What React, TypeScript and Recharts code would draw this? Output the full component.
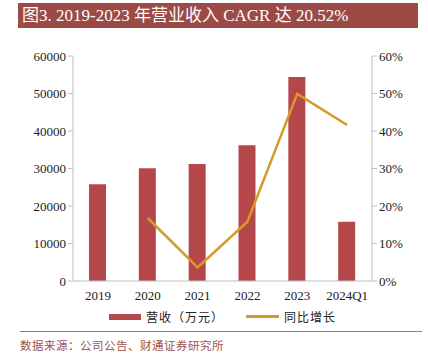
import { ComposedChart, Bar, Line, XAxis, YAxis } from "recharts";

const years = ["2019", "2020", "2021", "2022", "2023", "2024Q1"];
const revenue = [25800, 30100, 31200, 36200, 54400, 15800];
const growth = [null, 16.8, 3.6, 15.8, 49.9, 41.6];
const leftTicks = [0, 10000, 20000, 30000, 40000, 50000, 60000];
const rightTicks = [0, 10, 20, 30, 40, 50, 60];

const serif = '"Liberation Serif", "Noto Sans CJK SC", serif';
const cjk = '"Noto Sans CJK SC", sans-serif';

const data = years.map((y, i) => ({ name: y, revenue: revenue[i], growth: growth[i] }));

export default function App() {
  return (
    <div style={{ position: "absolute", left: 0, top: 0, width: 428, height: 356, background: "#fff", fontFamily: serif }}>
      {/* title bar */}
      <div
        style={{
          position: "absolute",
          left: 18,
          top: 3,
          width: 400,
          height: 25,
          background: "#9C4A46",
          color: "#fff",
          fontSize: 17,
          lineHeight: "25px",
          paddingLeft: 4,
          boxSizing: "border-box",
          whiteSpace: "nowrap",
        }}
      >
        图3. 2019-2023 年营业收入 CAGR 达 20.52%
      </div>

      <div style={{ position: "absolute", left: 0, top: 0 }}>
        <ComposedChart width={428} height={356} data={data} margin={{ top: 56, right: 0, left: 0, bottom: 45 }}>
          <XAxis
            dataKey="name"
            axisLine={{ stroke: "#BFBFBF" }}
            tickLine={false}
            tick={{ fontSize: 13, fill: "#222", fontFamily: serif }}
            height={30}
            dy={2}
            interval={0}
          />
          <YAxis
            yAxisId="left"
            domain={[0, 60000]}
            ticks={leftTicks}
            width={73}
            axisLine={{ stroke: "#BFBFBF" }}
            tickLine={{ stroke: "#BFBFBF" }}
            tickSize={5}
            tick={{ fontSize: 13, fill: "#222", fontFamily: serif }}
            interval={0}
          />
          <YAxis
            yAxisId="right"
            orientation="right"
            domain={[0, 60]}
            ticks={rightTicks}
            tickFormatter={(v) => `${v}%`}
            width={56}
            axisLine={{ stroke: "#BFBFBF" }}
            tickLine={{ stroke: "#BFBFBF" }}
            tickSize={5}
            tick={{ fontSize: 13, fill: "#222", fontFamily: serif }}
            interval={0}
          />
          <Bar yAxisId="left" dataKey="revenue" fill="#B5474A" barSize={17} isAnimationActive={false} />
          <Line
            yAxisId="right"
            dataKey="growth"
            stroke="#D69A27"
            strokeWidth={2.5}
            dot={false}
            type="linear"
            isAnimationActive={false}
          />
        </ComposedChart>
      </div>

      {/* legend */}
      <div style={{ position: "absolute", left: 109, top: 308, display: "flex", alignItems: "center", fontFamily: cjk, fontSize: 12, color: "#222", letterSpacing: 1 }}>
        <div style={{ width: 32, height: 6, background: "#B5474A", marginRight: 5 }} />
        <span>营收（万元）</span>
        <div style={{ width: 33, height: 2.5, background: "#D69A27", marginLeft: 22, marginRight: 5 }} />
        <span>同比增长</span>
      </div>

      {/* footer */}
      <div style={{ position: "absolute", left: 20, top: 331, width: 402, height: 1, background: "#B0706B" }} />
      <div style={{ position: "absolute", left: 20, top: 337, fontFamily: cjk, fontSize: 11.5, color: "#A0524E", letterSpacing: 0.5, whiteSpace: "nowrap" }}>
        数据来源：公司公告、财通证券研究所
      </div>
    </div>
  );
}
